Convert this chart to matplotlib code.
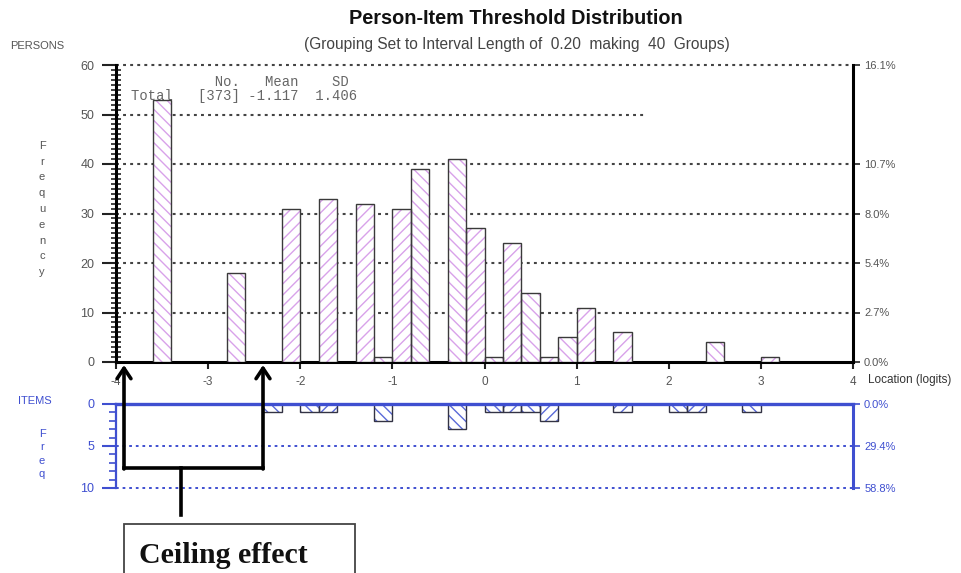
import matplotlib.pyplot as plt
from matplotlib.patches import Rectangle
from matplotlib.ticker import MultipleLocator

# ---- data: threshold groups of 0.2 logits ----
person_loc = [-3.5, -2.7, -2.1, -1.7, -1.3, -1.1, -0.9, -0.7, -0.3, -0.1,
              0.1, 0.3, 0.5, 0.7, 0.9, 1.1, 1.5, 2.5, 3.1]
person_cnt = [53, 18, 31, 33, 32, 1, 31, 39, 41, 27,
              1, 24, 14, 1, 5, 11, 6, 4, 1]

item_loc = [-2.3, -1.9, -1.7, -1.1, -0.3, 0.1, 0.3, 0.5, 0.7, 1.5, 2.1, 2.3, 2.9]
item_cnt = [1, 1, 1, 2, 3, 1, 1, 1, 2, 1, 1, 1, 1]

person_mean = -1.117
person_sd = 1.406

x_ticks = [-4, -3, -2, -1, 0, 1, 2, 3, 4]
person_ticks = [0, 10, 20, 30, 40, 50, 60]
person_pct_ticks = [0, 10, 20, 30, 40, 60]
item_ticks = [0, 5, 10]

n_persons = sum(person_cnt)
n_items = sum(item_cnt)
group_w = 0.2

# ---- style ----
W, H = 961, 573
GRAY = "#555555"
BLUE = "#3f4fd0"
PINK = "#d8a2ea"
ITEM_HATCH = "#5a6ad8"
DOTS = (0, (1.4, 2.0))
SANS = ["Liberation Sans", "DejaVu Sans"]
plt.rcParams["font.family"] = SANS
plt.rcParams["hatch.linewidth"] = 1.0


def fx(px):
    return px / W


def fy(py):
    return 1 - py / H


def hatch_for(loc):
    idx = int(round((loc + 4) / group_w - 0.5))
    return "\\\\\\" if idx % 2 == 0 else "///"


fig = plt.figure(figsize=(W / 100, H / 100), dpi=100)

# ---- persons panel ----
ax = fig.add_axes([fx(116), fy(362), (853 - 116) / W, (362 - 65) / H])
ax.set_xlim(-4, 4)
ax.set_ylim(0, 60)

for x, c in zip(person_loc, person_cnt):
    ax.bar(x, c, width=group_w, color="white", edgecolor=PINK, hatch=hatch_for(x),
           linewidth=0, zorder=3)
ax.bar(person_loc, person_cnt, width=group_w, fill=False, edgecolor="#3a3a3a",
       linewidth=1.0, zorder=4)

for v in person_ticks[1:]:
    xmax = 1.76 if v == 50 else 4
    ax.hlines(v, -4, xmax, colors="#444444", linestyles=DOTS, linewidth=1.5,
              zorder=1, clip_on=False)

for s in ["top", "right"]:
    ax.spines[s].set_visible(False)
ax.spines["left"].set_linewidth(2.2)
ax.spines["bottom"].set_linewidth(2.2)

ax.set_yticks(person_ticks)
ax.set_yticklabels([str(v) for v in person_ticks])
ax.yaxis.set_minor_locator(MultipleLocator(1))
ax.tick_params(axis="y", which="major", direction="out", length=10, width=1.5,
               color="#222222", labelcolor=GRAY, labelsize=9, pad=5.5)
ax.tick_params(axis="y", which="minor", direction="inout", length=7, width=1.2,
               color="#222222")
ax.set_xticks(x_ticks)
ax.set_xticklabels([str(v) for v in x_ticks])
ax.tick_params(axis="x", direction="out", length=5, width=1.5, color="#222222",
               labelcolor=GRAY, labelsize=8.5, pad=5)

axr = ax.twinx()
axr.set_ylim(0, 60)
for s in ["top", "left", "bottom"]:
    axr.spines[s].set_visible(False)
axr.spines["right"].set_linewidth(2.2)
axr.set_yticks(person_pct_ticks)
axr.set_yticklabels([f"{v / n_persons * 100:.1f}%" for v in person_pct_ticks])
axr.tick_params(axis="y", direction="out", length=5, width=1.2, color="#222222",
                labelcolor=GRAY, labelsize=8, pad=3)

# summary table
stats_top = " " * 10 + "No." + " " * 3 + "Mean" + " " * 4 + "SD"
stats_row = f"Total   [{n_persons}] {person_mean:.3f}  {person_sd:.3f}"
ax.text(-3.84, 56.6, stats_top, family="Liberation Mono", fontsize=10,
        color="#666666", va="center", zorder=5)
ax.text(-3.84, 53.7, stats_row, family="Liberation Mono", fontsize=10,
        color="#666666", va="center", zorder=2)

# ---- items panel ----
ax2 = fig.add_axes([fx(116), fy(488), (853 - 116) / W, (488 - 404) / H])
ax2.set_xlim(-4, 4)
ax2.set_ylim(10, 0)

for x, c in zip(item_loc, item_cnt):
    ax2.bar(x, c, width=group_w, color="white", edgecolor=ITEM_HATCH, hatch=hatch_for(x),
            linewidth=0, zorder=3)
ax2.bar(item_loc, item_cnt, width=group_w, fill=False, edgecolor="#333344",
        linewidth=1.0, zorder=4)

for v in item_ticks[1:]:
    ax2.hlines(v, -4, 4, colors=BLUE, linestyles=DOTS, linewidth=1.4,
               zorder=1, clip_on=False)

ax2.spines["bottom"].set_visible(False)
ax2.spines["top"].set_color(BLUE)
ax2.spines["top"].set_linewidth(2.4)
ax2.spines["top"].set_zorder(5)
ax2.spines["left"].set_color(BLUE)
ax2.spines["left"].set_linewidth(1.6)
ax2.spines["right"].set_visible(False)
ax2.set_xticks([])
ax2.set_yticks(item_ticks)
ax2.set_yticklabels([str(v) for v in item_ticks])
ax2.yaxis.set_minor_locator(MultipleLocator(1))
ax2.tick_params(axis="y", which="major", direction="out", length=10, width=1.5,
                color=BLUE, labelcolor=BLUE, labelsize=9, pad=5.5)
ax2.tick_params(axis="y", which="minor", direction="out", length=5, width=1.2,
                color=BLUE)

ax2r = ax2.twinx()
ax2r.set_ylim(10, 0)
for s in ["top", "left", "bottom"]:
    ax2r.spines[s].set_visible(False)
ax2r.spines["right"].set_color(BLUE)
ax2r.spines["right"].set_linewidth(2.2)
ax2r.set_yticks(item_ticks)
ax2r.set_yticklabels([f"{v / n_items * 100:.1f}%" for v in item_ticks])
ax2r.tick_params(axis="y", direction="out", length=5, width=1.2, color=BLUE,
                 labelcolor=BLUE, labelsize=8, pad=3)

# ---- titles and side labels ----
fig.text(fx(516), fy(18), "Person-Item Threshold Distribution", ha="center", va="center",
         fontsize=14.3, fontweight="bold", color="#111111")
fig.text(fx(517), fy(44), "(Grouping Set to Interval Length of  0.20  making  40  Groups)",
         ha="center", va="center", fontsize=11.2, color="#444444")
fig.text(fx(10), fy(46), "PERSONS", ha="left", va="center", fontsize=8, color=GRAY)
fig.text(fx(42), fy(209), "\n".join("Frequency"), ha="center", va="center",
         fontsize=8, color=GRAY, linespacing=1.72)
fig.text(fx(868), fy(380), "Location (logits)", ha="left", va="center", fontsize=8.5,
         color="#333333")
fig.text(fx(18), fy(401), "ITEMS", ha="left", va="center", fontsize=8, color=BLUE)
fig.text(fx(42), fy(454), "\n".join("Freq"), ha="center", va="center",
         fontsize=8, color=BLUE, linespacing=1.4)

# ---- ceiling effect callout ----
ov = fig.add_axes([0, 0, 1, 1], zorder=10)
ov.set_xlim(0, W)
ov.set_ylim(H, 0)
ov.axis("off")
arrow_x = [124, 263]
for x in arrow_x:
    ov.annotate("", xy=(x, 365), xytext=(x, 469),
                arrowprops=dict(arrowstyle="->,head_length=0.75,head_width=0.5",
                                lw=2.6, color="black", shrinkA=0, shrinkB=0))
ov.plot(arrow_x, [468, 468], color="black", lw=2.6, solid_capstyle="projecting")
ov.plot([181, 181], [468, 515], color="black", lw=2.6)
ov.add_patch(Rectangle((124, 524), 231, 60, facecolor="white", edgecolor="#444444", lw=1.3))
ov.text(139, 563, "Ceiling effect", ha="left", va="baseline", fontsize=21.5,
        fontweight="bold", family=["Liberation Serif", "DejaVu Serif"], color="#111111")

fig.savefig("out.png", dpi=100)
